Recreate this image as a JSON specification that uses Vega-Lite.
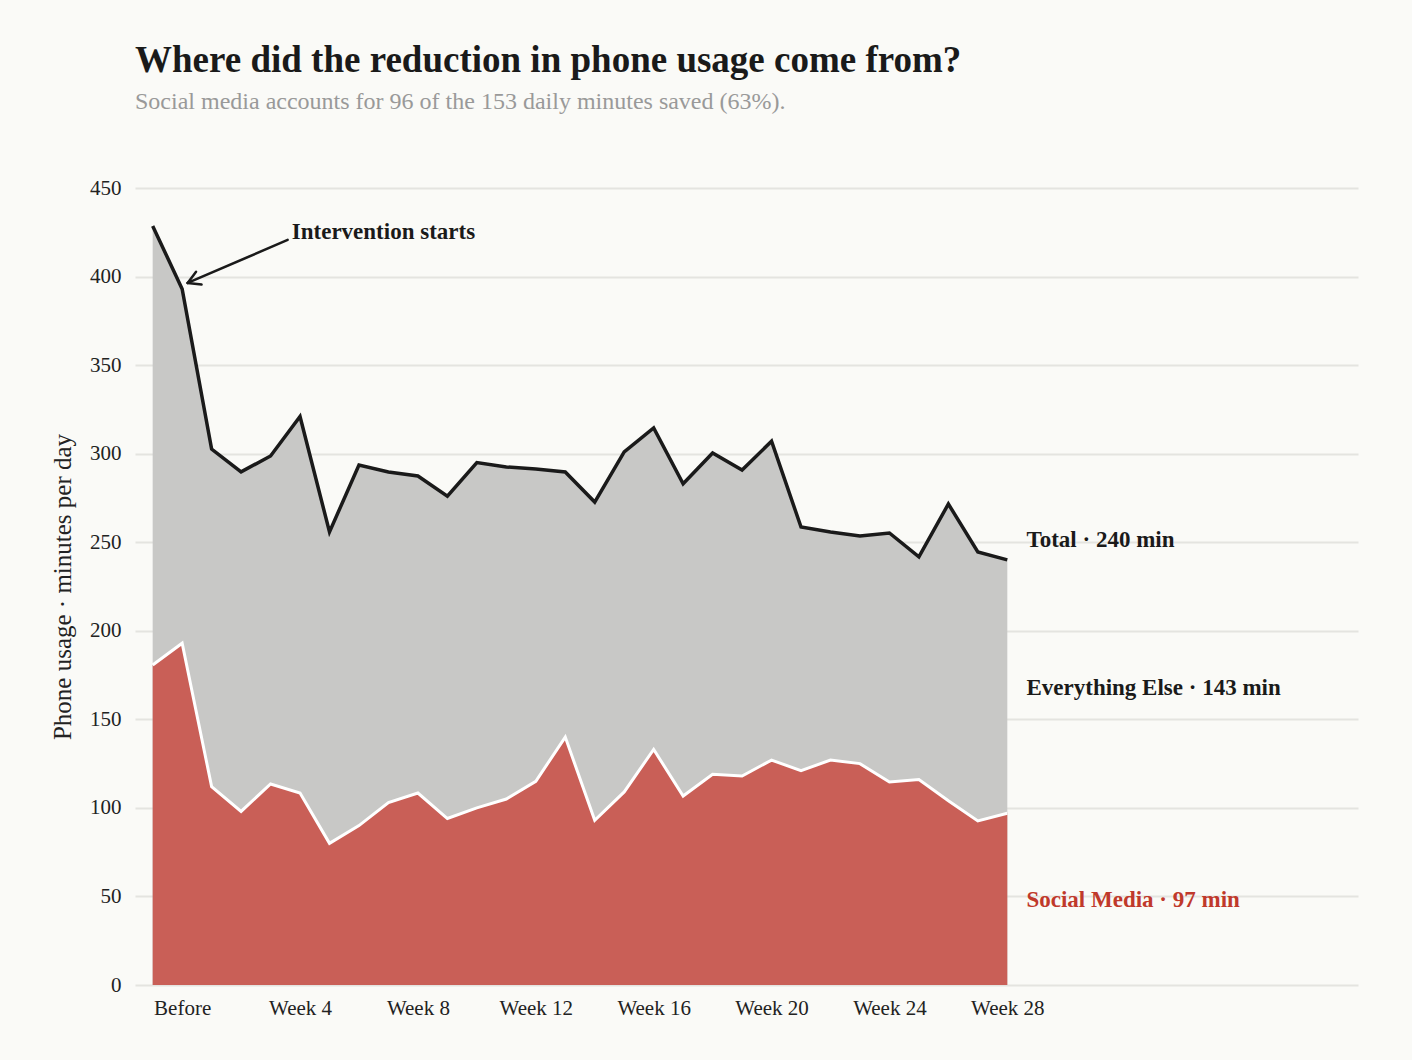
{
  "$schema": "https://vega.github.io/schema/vega-lite/v6.json",
  "width": 1223,
  "height": 797,
  "autosize": "none",
  "padding": {"left": 135, "top": 188, "right": 54, "bottom": 75},
  "background": "#fafaf7",
  "config": {
    "font": "Liberation Serif",
    "view": {"stroke": null},
    "axis": {"labelFont": "Liberation Serif", "titleFont": "Liberation Serif", "labelColor": "#222", "titleColor": "#222", "labelFontSize": 21, "ticks": false, "domain": false, "gridColor": "#e4e4e0", "gridWidth": 2}
  },
  "title": {
    "text": "Where did the reduction in phone usage come from?",
    "subtitle": "Social media accounts for 96 of the 153 daily minutes saved (63%).",
    "anchor": "start",
    "frame": "group",
    "offset": 62,
    "fontSize": 37,
    "fontWeight": "bold",
    "color": "#1a1a1a",
    "subtitleFontSize": 24,
    "subtitleColor": "#999",
    "subtitlePadding": 10,
    "font": "Liberation Serif",
    "subtitleFont": "Liberation Serif"
  },
  "datasets": {
    "usage": [
      {"week": -1, "total": 428.6, "social": 180.7},
      {"week": 0, "total": 393, "social": 193},
      {"week": 1, "total": 302.6, "social": 112},
      {"week": 2, "total": 289.7, "social": 98},
      {"week": 3, "total": 298.7, "social": 113.5},
      {"week": 4, "total": 321, "social": 108.4},
      {"week": 5, "total": 255.8, "social": 80},
      {"week": 6, "total": 293.6, "social": 90},
      {"week": 7, "total": 289.7, "social": 103},
      {"week": 8, "total": 287.4, "social": 108.4},
      {"week": 9, "total": 276, "social": 94},
      {"week": 10, "total": 295, "social": 100},
      {"week": 11, "total": 292.5, "social": 105},
      {"week": 12, "total": 291.4, "social": 115},
      {"week": 13, "total": 289.7, "social": 140},
      {"week": 14, "total": 272.7, "social": 93},
      {"week": 15, "total": 301, "social": 109},
      {"week": 16, "total": 314.5, "social": 133},
      {"week": 17, "total": 283, "social": 106.7},
      {"week": 18, "total": 300.4, "social": 119},
      {"week": 19, "total": 290.8, "social": 118},
      {"week": 20, "total": 307, "social": 127},
      {"week": 21, "total": 258.6, "social": 121},
      {"week": 22, "total": 255.8, "social": 127},
      {"week": 23, "total": 253.5, "social": 125},
      {"week": 24, "total": 255.2, "social": 114.6},
      {"week": 25, "total": 241.7, "social": 116},
      {"week": 26, "total": 271.6, "social": 104},
      {"week": 27, "total": 244.5, "social": 92.6},
      {"week": 28, "total": 240, "social": 97}
    ],
    "arrow": [
      {"x": 3.58, "y": 420.7, "x2": 0.187, "y2": 396.4},
      {"x": 0.659, "y": 395.5, "x2": 0.187, "y2": 396.4},
      {"x": 0.472, "y": 402.7, "x2": 0.187, "y2": 396.4}
    ],
    "labels": [
      {"x": 3.72, "y": 425, "text": "Intervention starts", "kind": "note"},
      {"x": 28.65, "y": 251.3, "text": "Total · 240 min", "kind": "dark"},
      {"x": 28.65, "y": 167.7, "text": "Everything Else · 143 min", "kind": "dark"},
      {"x": 28.65, "y": 48, "text": "Social Media · 97 min", "kind": "red"}
    ]
  },
  "layer": [
    {
      "data": {"name": "usage"},
      "mark": {"type": "area", "color": "#c8c8c6"},
      "encoding": {
        "x": {"field": "week", "type": "quantitative", "scale": {"domain": [-1.6, 39.9], "nice": false},
          "axis": {"values": [0, 4, 8, 12, 16, 20, 24, 28], "grid": false, "title": null, "labelPadding": 12,
            "labelExpr": "datum.value == 0 ? 'Before' : 'Week ' + datum.value"}},
        "y": {"field": "total", "type": "quantitative", "scale": {"domain": [0, 450], "nice": false},
          "axis": {"values": [0, 50, 100, 150, 200, 250, 300, 350, 400, 450], "title": "Phone usage · minutes per day", "titleFontSize": 25, "titleFontWeight": "normal", "labelPadding": 14, "titlePadding": 14}}
      }
    },
    {
      "data": {"name": "usage"},
      "mark": {"type": "area", "color": "#c9534a", "opacity": 0.9},
      "encoding": {"x": {"field": "week", "type": "quantitative"}, "y": {"field": "social", "type": "quantitative"}}
    },
    {
      "data": {"name": "usage"},
      "mark": {"type": "line", "color": "#ffffff", "strokeWidth": 3},
      "encoding": {"x": {"field": "week", "type": "quantitative"}, "y": {"field": "social", "type": "quantitative"}}
    },
    {
      "data": {"name": "usage"},
      "mark": {"type": "line", "color": "#1a1a1a", "strokeWidth": 3.5},
      "encoding": {"x": {"field": "week", "type": "quantitative"}, "y": {"field": "total", "type": "quantitative"}}
    },
    {
      "data": {"name": "arrow"},
      "mark": {"type": "rule", "color": "#1a1a1a", "strokeWidth": 2.5, "strokeCap": "round"},
      "encoding": {
        "x": {"field": "x", "type": "quantitative"}, "y": {"field": "y", "type": "quantitative"},
        "x2": {"field": "x2"}, "y2": {"field": "y2"}
      }
    },
    {
      "data": {"name": "labels"},
      "mark": {"type": "text", "align": "left", "baseline": "middle", "fontSize": 23, "fontWeight": "bold", "font": "Liberation Serif"},
      "encoding": {
        "x": {"field": "x", "type": "quantitative"}, "y": {"field": "y", "type": "quantitative"},
        "text": {"field": "text"},
        "color": {"field": "kind", "type": "nominal", "scale": {"domain": ["note", "dark", "red"], "range": ["#1a1a1a", "#1a1a1a", "#c0392b"]}, "legend": null}
      }
    }
  ]
}
